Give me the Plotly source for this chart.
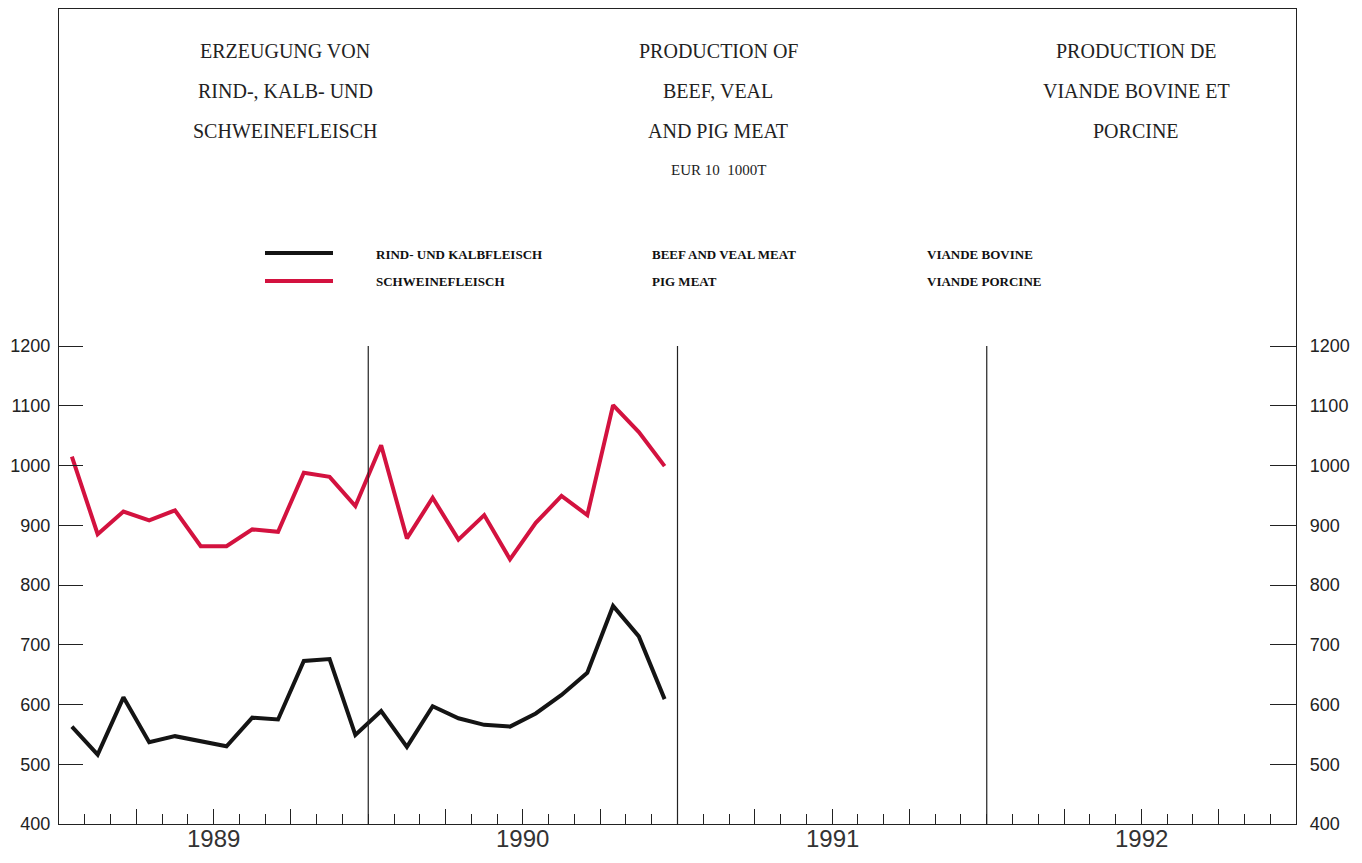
import plotly.graph_objects as go

# ---- data ----
years = ["1989", "1990", "1991", "1992"]
months_per_year = 12
beef_veal = [563, 516, 612, 537, 547, 539, 530, 578, 575, 673, 676, 549,
             589, 529, 597, 577, 566, 563, 585, 616, 653, 765, 714, 609]
pig_meat = [1015, 885, 923, 908, 925, 865, 865, 893, 889, 988, 981, 932,
            1034, 878, 946, 876, 917, 843, 904, 949, 917, 1101, 1056, 999]
y_ticks = [400, 500, 600, 700, 800, 900, 1000, 1100, 1200]
legend_rows = [
    ("RIND- UND KALBFLEISCH", "BEEF AND VEAL MEAT", "VIANDE BOVINE"),
    ("SCHWEINEFLEISCH", "PIG MEAT", "VIANDE PORCINE"),
]
BLACK = "#141414"
RED = "#d3123f"

OFF = 8  # default page body margin
W, H = 1362 - OFF, 863 - OFF
# plot box in page pixels
L, R, T, B = 59, 1296, 9, 824
n_months = months_per_year * len(years)
x_pos = [i + 0.5 for i in range(len(beef_veal))]

scale = (B - 346) / 800.0
y_top = 400 + (B - T) / scale


def px(xp):
    return (xp - L) / (R - L)


def py(yp):
    return (B - yp) / (B - T)


fig = go.Figure()
fig.add_trace(go.Scatter(x=x_pos, y=beef_veal, mode="lines",
                         line=dict(color=BLACK, width=4), name="beef"))
fig.add_trace(go.Scatter(x=x_pos, y=pig_meat, mode="lines",
                         line=dict(color=RED, width=4), name="pig", yaxis="y2"))

q_vals = [q for q in range(3, n_months, 3) if q % 12 != 0]

axis_font = dict(family="Liberation Sans, Arial, sans-serif", size=18, color="#222")

fig.update_layout(
    width=W, height=H,
    margin=dict(l=L - OFF, r=W - (R - OFF), t=T - OFF, b=H - (B - OFF)),
    paper_bgcolor="white", plot_bgcolor="white",
    showlegend=False,
    xaxis=dict(range=[0, n_months], tickmode="array", tickvals=q_vals, showticklabels=False,
               ticks="inside", ticklen=15, tickwidth=1, tickcolor="#222",
               minor=dict(dtick=1, tick0=0, ticks="inside", ticklen=10, tickwidth=1, tickcolor="#222"),
               showgrid=False, zeroline=False, showline=True, linecolor="#222", linewidth=1.2,
               mirror=True),
    yaxis=dict(range=[400, y_top], tickmode="array", tickvals=y_ticks,
               ticks="inside", ticklen=24, tickwidth=1, tickcolor="#222",
               showgrid=False, zeroline=False, showline=True, linecolor="#222", linewidth=1.2,
               tickfont=axis_font, ticklabelstandoff=4),
    yaxis2=dict(range=[400, y_top], overlaying="y", side="right", tickmode="array", tickvals=y_ticks,
                ticks="inside", ticklen=26, tickwidth=1, tickcolor="#222",
                showgrid=False, zeroline=False, showline=True, linecolor="#222", linewidth=1.2,
                tickfont=axis_font, ticklabelstandoff=9),
)

# year separators and year labels
for k in range(len(years)):
    if k > 0:
        fig.add_shape(type="line", x0=k * 12, x1=k * 12, y0=400, y1=1200,
                      xref="x", yref="y", line=dict(color="#222", width=1.2))
    fig.add_annotation(x=k * 12 + 6, y=py(839), xref="x", yref="paper", text=years[k],
                       showarrow=False, xanchor="center", yanchor="middle",
                       font=dict(family="Liberation Sans, Arial, sans-serif", size=24, color="#333"))

title_font = dict(family="Liberation Serif, Times New Roman, serif", size=20, color="#222")
titles = [
    (285, ["ERZEUGUNG VON", "RIND-, KALB- UND", "SCHWEINEFLEISCH"]),
    (718, ["PRODUCTION OF", "BEEF, VEAL", "AND PIG MEAT"]),
    (1136, ["PRODUCTION DE", "VIANDE BOVINE ET", "PORCINE"]),
]
for xc, lines in titles:
    for i, t in enumerate(lines):
        fig.add_annotation(x=px(xc), y=py(51 + 40 * i), xref="paper", yref="paper",
                           text=t, showarrow=False, xanchor="center", yanchor="middle",
                           font=title_font)
fig.add_annotation(x=px(718), y=py(170), xref="paper", yref="paper", text="EUR 10  1000T",
                   showarrow=False, xanchor="center", yanchor="middle",
                   font=dict(family="Liberation Serif, Times New Roman, serif", size=15, color="#222"))

# legend
leg_font = dict(family="Liberation Serif, Times New Roman, serif", size=13, color="#111")
for row, (color, ypix) in enumerate([(BLACK, 253), (RED, 281)]):
    fig.add_shape(type="line", x0=px(265), x1=px(333), y0=py(ypix), y1=py(ypix),
                  xref="paper", yref="paper", line=dict(color=color, width=4))
    for xt, txt in zip([374, 650, 925], legend_rows[row]):
        fig.add_annotation(x=px(xt), y=py(ypix + 1), xref="paper", yref="paper", text="<b>" + txt + "</b>",
                           showarrow=False, xanchor="left", yanchor="middle", font=leg_font)

fig.write_html("out.html")
